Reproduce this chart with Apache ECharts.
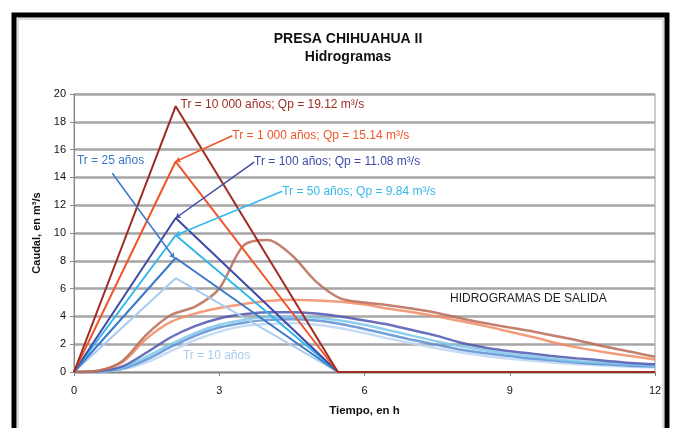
<!DOCTYPE html>
<html>
<head>
<meta charset="utf-8">
<script src="https://cdn.jsdelivr.net/npm/echarts@6/dist/echarts.min.js"></script>
<style>
  html, body { margin: 0; padding: 0; background: #fff; }
  #chart { width: 676px; height: 428px; }
</style>
</head>
<body>
<div id="chart"></div>
<script>
  // tiempos (h)
  const triTimes = [0, 2.1, 5.45, 12];
  const outTimes = [0, 0.5, 1, 1.5, 2, 2.5, 3, 3.5, 4, 4.5, 5, 5.5, 6, 6.5, 7, 7.5, 8, 8.5, 9, 9.5, 10, 10.5, 11, 11.5, 12];

  // hidrogramas de entrada (triangulares)
  const in10000 = [0, 19.12, 0, 0];
  const in1000 = [0, 15.14, 0, 0];
  const in100 = [0, 11.08, 0, 0];
  const in50 = [0, 9.84, 0, 0];
  const in25 = [0, 8.2, 0, 0];
  const in10 = [0, 6.75, 0, 0];

  // hidrogramas de salida
  const out10000 = [0, 0.1, 0.8, 2.7, 4.1, 4.7, 6.0, 9.1, 9.5, 8.4, 6.5, 5.3, 5.0, 4.8, 4.55, 4.25, 3.85, 3.5, 3.2, 2.9, 2.55, 2.2, 1.8, 1.45, 1.1];
  const out1000 = [0, 0.1, 0.7, 2.4, 3.6, 4.2, 4.6, 4.9, 5.1, 5.2, 5.15, 5.05, 4.85, 4.55, 4.3, 4.0, 3.65, 3.3, 2.9, 2.5, 2.05, 1.7, 1.4, 1.15, 0.9];
  const out100 = [0, 0.05, 0.4, 1.4, 2.5, 3.3, 3.85, 4.15, 4.3, 4.3, 4.2, 4.0, 3.7, 3.4, 3.0, 2.6, 2.1, 1.75, 1.5, 1.3, 1.1, 0.95, 0.8, 0.65, 0.55];
  const out50 = [0, 0.04, 0.3, 1.1, 2.0, 2.8, 3.4, 3.75, 3.95, 4.0, 3.9, 3.7, 3.4, 3.0, 2.6, 2.2, 1.85, 1.55, 1.3, 1.1, 0.9, 0.75, 0.65, 0.55, 0.45];
  const out25 = [0, 0.03, 0.25, 0.9, 1.8, 2.6, 3.2, 3.55, 3.75, 3.8, 3.7, 3.45, 3.1, 2.7, 2.3, 1.95, 1.6, 1.35, 1.15, 0.95, 0.8, 0.65, 0.55, 0.45, 0.4];
  const out10 = [0, 0.02, 0.2, 0.7, 1.5, 2.3, 2.9, 3.3, 3.45, 3.5, 3.4, 3.15, 2.8, 2.4, 2.05, 1.7, 1.4, 1.15, 0.95, 0.8, 0.65, 0.55, 0.45, 0.38, 0.32];

  const xTicks = [0, 3, 6, 9, 12];
  const yTicks = [0, 2, 4, 6, 8, 10, 12, 14, 16, 18, 20];

  const font = 'Liberation Sans, Arial, sans-serif';
  const pair = (xs, ys) => xs.map((x, i) => [x, ys[i]]);

  function outSeries(name, data, color) {
    return {
      name: name, type: 'line', smooth: 0.3, data: pair(outTimes, data),
      showSymbol: false, z: 2,
      lineStyle: { color: color, width: 2.5, opacity: 0.85 }
    };
  }

  function inSeries(name, data, color, leader, label) {
    const s = {
      name: name, type: 'line', data: pair(triTimes, data),
      showSymbol: false, z: 3,
      lineStyle: { color: color, width: 2 }
    };
    if (leader) {
      s.markLine = {
        silent: true, symbol: ['arrow', 'none'], symbolSize: 5,
        lineStyle: { color: color, width: 1.5, type: 'solid' },
        label: { show: false },
        data: [[{ coord: leader[0] }, { coord: leader[1] }]]
      };
    }
    if (label) {
      s.markPoint = {
        silent: true, symbol: 'circle', symbolSize: 0,
        data: [{ coord: label.at }],
        label: { show: true, position: 'right', distance: 0, color: color, fontFamily: font, fontSize: 12, formatter: label.text }
      };
    }
    return s;
  }

  const chart = echarts.init(document.getElementById('chart'));
  chart.setOption({
    animation: false,
    backgroundColor: '#fff',
    title: {
      text: 'PRESA CHIHUAHUA II\nHidrogramas',
      left: 343, textAlign: 'center', top: 25,
      textStyle: { fontFamily: font, fontSize: 14, fontWeight: 'bold', color: '#111', lineHeight: 18 }
    },
    graphic: [
      { type: 'rect', shape: { x: 14, y: 15, width: 653, height: 420 }, style: { fill: 'none', stroke: '#000', lineWidth: 5 }, z: 10 },
      { type: 'rect', shape: { x: 18, y: 19, width: 645, height: 420 }, style: { fill: 'none', stroke: '#bbb', lineWidth: 1 }, z: 10 },
      { type: 'text', left: 450, top: 293, style: { text: 'HIDROGRAMAS DE SALIDA', fill: '#222', font: '12px ' + font } }
    ],
    grid: { left: 74, right: 21, top: 94, bottom: 56, show: true, borderColor: '#999', borderWidth: 1 },
    xAxis: {
      type: 'value', min: xTicks[0], max: xTicks[xTicks.length - 1], interval: 3,
      name: 'Tiempo, en h', nameLocation: 'middle', nameGap: 33,
      nameTextStyle: { fontFamily: font, fontSize: 11.5, fontWeight: 'bold', color: '#111' },
      axisLine: { onZero: false, lineStyle: { color: '#888' } },
      axisTick: { show: true, length: 4, lineStyle: { color: '#888' } },
      axisLabel: { fontFamily: font, fontSize: 11, color: '#111', margin: 13 },
      splitLine: { show: false }
    },
    yAxis: {
      type: 'value', min: yTicks[0], max: yTicks[yTicks.length - 1], interval: 2,
      name: 'Caudal, en m³/s', nameLocation: 'middle', nameGap: 31, nameRotate: 90,
      nameTextStyle: { fontFamily: font, fontSize: 11, fontWeight: 'bold', color: '#111' },
      axisLine: { show: true, lineStyle: { color: '#888' } },
      axisTick: { show: true, length: 4, lineStyle: { color: '#888' } },
      axisLabel: { fontFamily: font, fontSize: 11, color: '#111', margin: 8 },
      splitLine: { show: true, lineStyle: { color: '#a6a6a6', width: 2.5 } }
    },
    series: [
      outSeries('S10', out10, '#bcd6f2'),
      outSeries('S25', out25, '#5b8ed4'),
      outSeries('S50', out50, '#7cc6ea'),
      outSeries('S100', out100, '#5058b0'),
      outSeries('S1000', out1000, '#f08c64'),
      outSeries('S10000', out10000, '#b86a55'),
      inSeries('E10', in10, '#a8ccf0', null, { at: [2.25, 1.2], text: 'Tr = 10 años' }),
      inSeries('E25', in25, '#3a78c8', [[2.07, 8.2], [0.79, 14.3]], { at: [0.06, 15.2], text: 'Tr = 25 años' }),
      inSeries('E50', in50, '#34b8ea', [[2.1, 9.84], [4.3, 13.0]], { at: [4.3, 13.0], text: 'Tr = 50 años; Qp = 9.84 m³/s' }),
      inSeries('E100', in100, '#3f4aa8', [[2.1, 11.08], [3.72, 15.1]], { at: [3.72, 15.1], text: 'Tr = 100 años; Qp = 11.08 m³/s' }),
      inSeries('E1000', in1000, '#f0562a', [[2.1, 15.14], [3.27, 17.0]], { at: [3.27, 17.0], text: 'Tr = 1 000 años; Qp = 15.14 m³/s' }),
      inSeries('E10000', in10000, '#9e2c22', null, { at: [2.2, 19.2], text: 'Tr = 10 000 años; Qp = 19.12 m³/s' })
    ]
  });
</script>
</body>
</html>
